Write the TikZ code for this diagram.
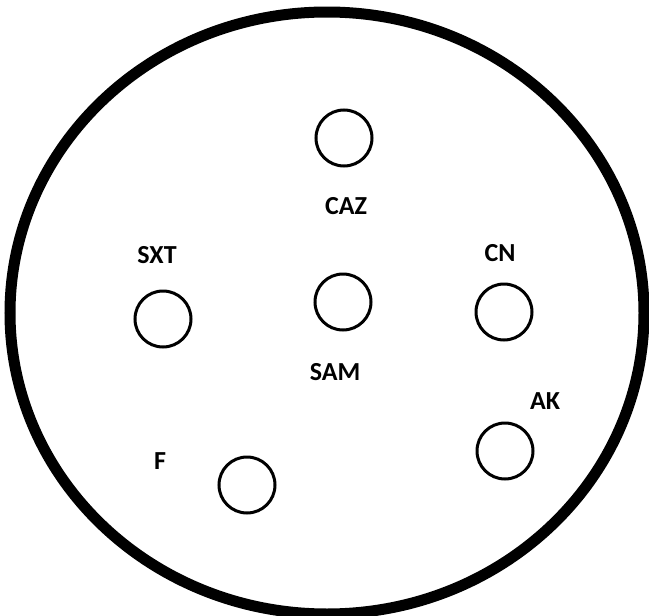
\documentclass[tikz,border=0pt]{standalone}
\usepackage{fontspec}
\setmainfont{Carlito}
\begin{document}
\begin{tikzpicture}[x=1pt,y=-1pt,
  hole/.style={draw=black,line width=3pt,circle,minimum size=56pt,inner sep=0pt},
  lbl/.style={font=\fontsize{26}{30}\selectfont\bfseries,inner sep=0pt}]
\useasboundingbox (0,0) rectangle (649,616);
\fill[white] (0,0) rectangle (649,616);
\draw[line width=11pt] (327,313) ellipse [x radius=317, y radius=301];
\node[hole] (caz) at (344,138) {};
\node[hole] (sxt) at (163,319) {};
\node[hole] (sam) at (343,302) {};
\node[hole] (cn) at (504,312) {};
\node[hole] (ak) at (505,451) {};
\node[hole] (f) at (247,485) {};
\node[lbl] (cazl) at (346,206) {CAZ};
\node[lbl] (sxtl) at (157,255) {SXT};
\node[lbl] (saml) at (335,372) {SAM};
\node[lbl] (cnl) at (500,253) {CN};
\node[lbl] (akl) at (545,401) {AK};
\node[lbl] (fl) at (160,461) {F};
\end{tikzpicture}
\end{document}
